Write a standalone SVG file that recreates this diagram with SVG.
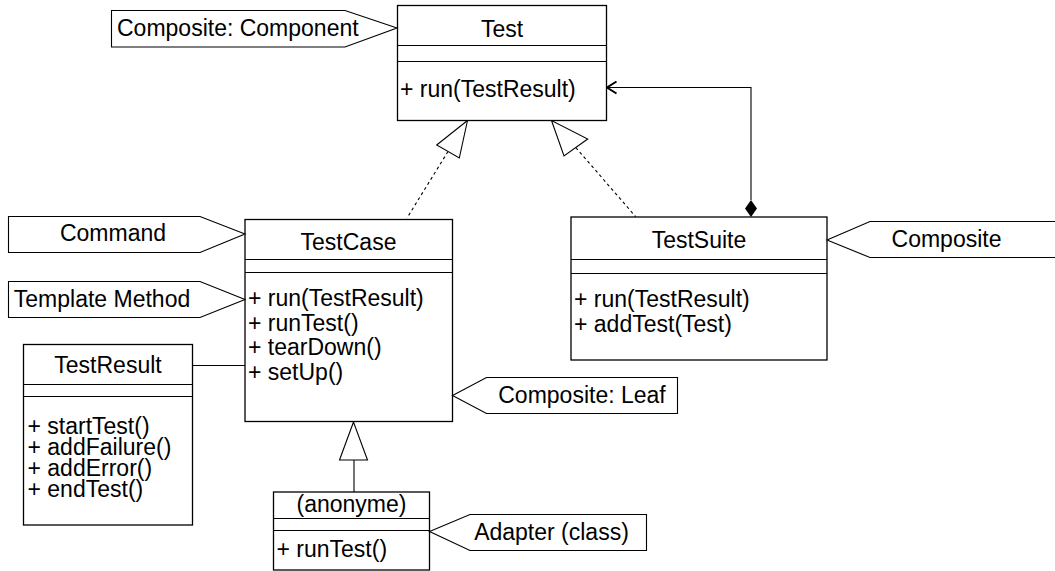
<svg xmlns="http://www.w3.org/2000/svg" width="1055" height="571" viewBox="0 0 1055 571">
<style>
text{font-family:"Liberation Sans",Arial,sans-serif;font-size:23px;fill:#000}
.t{text-anchor:middle}
.box{fill:#fff;stroke:#000;stroke-width:1.3}
.sep{stroke:#000;stroke-width:1.1;fill:none}
.note{fill:#fff;stroke:#000;stroke-width:1.1}
.ln{stroke:#000;stroke-width:1.1;fill:none}
.dash{stroke:#000;stroke-width:1.1;fill:none;stroke-dasharray:3 3}
.tri{fill:#fff;stroke:#000;stroke-width:1.1}
</style>
<rect width="1055" height="571" fill="#fff"/>
<g id="connectors">
<path class="dash" d="M448,151.5 L407,218"/>
<polygon class="tri" points="467.5,120.5 436.7,145 459.3,158"/>
<path class="dash" d="M575.8,147.5 L635.7,216.7"/>
<polygon class="tri" points="551.5,120.5 564,156 587.7,139"/>
<path class="ln" d="M751,200 L751,87.5 L607,87.5"/>
<path d="M616.5,81.5 L607,87.5 L616.5,93.5" fill="none" stroke="#000" stroke-width="2"/>
<polygon points="751,200 757,208.5 751,217 745,208.5" fill="#000"/>
<path class="ln" d="M192.5,365.5 L245,365.5"/>
<path class="ln" d="M354,460 L354,492"/>
<polygon class="tri" points="353.5,422 339.5,460 367.5,460"/>
</g>
<g id="test">
<rect class="box" x="397.5" y="5.5" width="209" height="115"/>
<path class="sep" d="M397.5,45.5 H606.5 M397.5,61.5 H606.5"/>
<text class="t" x="502" y="37">Test</text>
<text x="400" y="97">+ run(TestResult)</text>
</g>
<g id="note-component">
<polygon class="note" points="111.5,10.5 345,10.5 397,28 345,47 111.5,47"/>
<text x="117" y="36">Composite: Component</text>
</g>
<g id="testcase">
<rect class="box" x="245" y="219.5" width="207.5" height="202"/>
<path class="sep" d="M245,259.5 H452.5 M245,272.5 H452.5"/>
<text class="t" x="348.5" y="250">TestCase</text>
<text x="248" y="306">+ run(TestResult)</text>
<text x="248" y="330.5">+ runTest()</text>
<text x="248" y="355">+ tearDown()</text>
<text x="248" y="379.5">+ setUp()</text>
</g>
<g id="note-command">
<polygon class="note" points="8.5,216.5 200,216.5 245,234 200,252.5 8.5,252.5"/>
<text class="t" x="113" y="241">Command</text>
</g>
<g id="note-template">
<polygon class="note" points="8.5,281.5 200,281.5 245,299.5 200,317.5 8.5,317.5"/>
<text class="t" x="102" y="306.5">Template Method</text>
</g>
<g id="testsuite">
<rect class="box" x="571" y="217" width="256" height="143"/>
<path class="sep" d="M571,259.5 H827 M571,273.5 H827"/>
<text class="t" x="699" y="248">TestSuite</text>
<text x="574" y="307">+ run(TestResult)</text>
<text x="574" y="331.5">+ addTest(Test)</text>
</g>
<g id="note-composite">
<polygon class="note" points="1056,221.5 870,221.5 827,240 870,257.5 1056,257.5"/>
<text class="t" x="946.5" y="247">Composite</text>
</g>
<g id="testresult">
<rect class="box" x="23.5" y="344.5" width="169" height="180.5"/>
<path class="sep" d="M23.5,384.5 H192.5 M23.5,396.5 H192.5"/>
<text class="t" x="108" y="372.5">TestResult</text>
<text x="27.5" y="434">+ startTest()</text>
<text x="27.5" y="455">+ addFailure()</text>
<text x="27.5" y="476">+ addError()</text>
<text x="27.5" y="497">+ endTest()</text>
</g>
<g id="note-leaf">
<polygon class="note" points="677.5,377.5 486.5,377.5 452.5,395.5 486.5,413.5 677.5,413.5"/>
<text class="t" x="582" y="403">Composite: Leaf</text>
</g>
<g id="anonyme">
<rect class="box" x="273.5" y="492" width="156" height="78"/>
<path class="sep" d="M273.5,518.5 H429.5 M273.5,530.5 H429.5"/>
<text class="t" x="351.5" y="512">(anonyme)</text>
<text x="276.5" y="557">+ runTest()</text>
</g>
<g id="note-adapter">
<polygon class="note" points="646.5,514.5 470,514.5 429.5,531.5 470,550.5 646.5,550.5"/>
<text class="t" x="551.5" y="540">Adapter (class)</text>
</g>
</svg>
